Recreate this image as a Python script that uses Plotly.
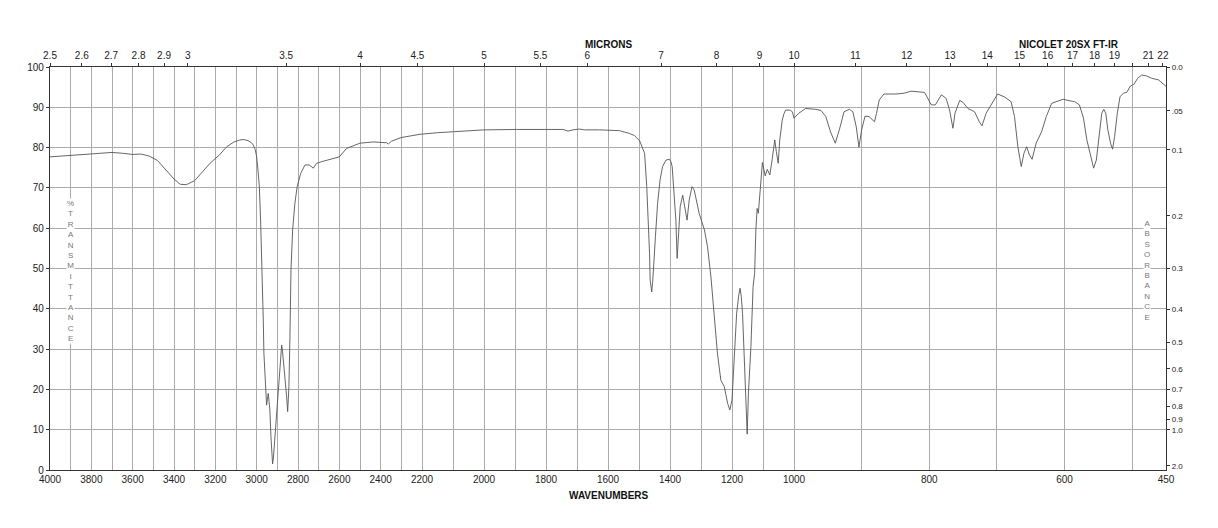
import plotly.graph_objects as go

# ---- data (wavenumber cm-1, % transmittance) ----
wavenumber = [4000, 3950, 3900, 3850, 3800, 3750, 3700, 3650, 3600, 3560, 3520, 3480, 3440, 3400,
              3370, 3340, 3300, 3260, 3226, 3180, 3145, 3110, 3081, 3060, 3041, 3025, 3016, 3007,
              3000, 2993, 2987, 2981, 2976, 2971, 2968, 2965, 2960, 2955, 2952, 2948, 2944, 2940,
              2936, 2931, 2926, 2923, 2919, 2916, 2907, 2896, 2887, 2879, 2875, 2871, 2863, 2855,
              2850, 2844, 2839, 2834, 2826, 2815, 2804, 2787, 2766, 2746, 2726, 2710, 2686, 2645,
              2600, 2565, 2530, 2500, 2436, 2371, 2363, 2347, 2300, 2250, 2210, 2150, 2099, 2000,
              1895, 1767, 1745, 1729, 1713, 1692, 1676, 1627, 1563, 1530, 1515, 1498, 1486, 1482,
              1475, 1470, 1466, 1464, 1461, 1459, 1456, 1454, 1447, 1440, 1432, 1424, 1413, 1402,
              1397, 1393, 1388, 1381, 1377, 1372, 1367, 1359, 1353, 1345, 1338, 1329, 1322, 1306,
              1289, 1279, 1268, 1257, 1247, 1236, 1225, 1214, 1207, 1200, 1193, 1185, 1178, 1174,
              1170, 1166, 1161, 1155, 1151, 1147, 1139, 1132, 1127, 1123, 1119, 1115, 1110, 1107,
              1102, 1097, 1093, 1086, 1078, 1070, 1062, 1057, 1051, 1046, 1038, 1032, 1027, 1011,
              1005, 1000, 993, 983, 968, 960, 953, 946, 939, 933, 926, 918, 913, 908, 904, 900,
              895, 889, 881, 878, 874, 867, 849, 837, 827, 807, 802, 797, 791, 782, 775, 770, 765,
              762, 755, 750, 743, 733, 726, 722, 716, 711, 706, 699, 689, 679, 674, 669, 664, 660,
              656, 652, 648, 642, 634, 627, 619, 612, 602, 595, 585, 578, 572, 567, 561, 557, 553,
              549, 545, 542, 539, 536, 532, 529, 526, 522, 518, 513, 508, 503, 497, 492, 486, 479,
              471, 461, 454, 450]
transmittance = [77.7, 77.9, 78.1, 78.3, 78.5, 78.7, 78.8, 78.6, 78.3, 78.4, 77.9, 76.8, 74.5, 72.2,
                 70.9, 70.8, 71.8, 74.0, 76.1, 78.2, 80.2, 81.4, 81.9, 82.0, 81.7, 81.2, 80.6, 79.5,
                 77.7, 74.0, 70.3, 62.0, 53.8, 45.5, 37.2, 29.0, 22.3, 17.0, 16.1, 17.5, 19.0, 17.0,
                 14.9, 8.3, 3.5, 1.5, 3.0, 5.0, 12.4, 20.7, 25.6, 31.0, 29.5, 27.3, 24.0, 18.2,
                 14.5, 20.7, 33.1, 49.6, 59.6, 66.2, 70.3, 73.6, 75.7, 75.7, 74.9, 76.1, 76.5, 77.1,
                 77.7, 79.8, 80.6, 81.1, 81.4, 81.2, 80.9, 81.6, 82.5, 83.0, 83.3, 83.7, 84.0, 84.4,
                 84.5, 84.6, 84.5, 84.1, 84.4, 84.6, 84.4, 84.4, 84.2, 83.5, 83.0, 81.7, 79.5, 78.6,
                 70.3, 62.0, 53.8, 47.1, 44.8, 44.2, 46.5, 49.6, 57.9, 66.2, 72.0, 75.3, 76.9, 77.1,
                 76.5, 75.3, 70.3, 62.0, 52.5, 60.4, 65.4, 68.2, 65.4, 62.0, 67.0, 70.3, 69.5, 63.7,
                 59.6, 55.4, 48.0, 38.9, 29.0, 22.3, 20.7, 16.5, 14.9, 17.4, 29.0, 38.9, 43.5, 45.1,
                 43.0, 38.9, 29.0, 14.1, 8.9, 19.0, 30.6, 45.5, 48.8, 59.6, 64.9, 63.7, 68.7, 72.8,
                 76.3, 74.5, 73.0, 74.6, 73.2, 77.3, 81.9, 79.0, 76.1, 81.9, 86.8, 88.5, 89.3, 89.3,
                 88.8, 87.3, 88.5, 89.7, 89.5, 89.2, 87.7, 83.9, 81.1, 84.4, 88.9, 89.5, 88.9, 85.2,
                 80.1, 84.4, 87.8, 87.7, 86.4, 88.5, 91.8, 93.3, 93.3, 93.5, 94.0, 93.7, 92.2, 90.6,
                 90.6, 93.1, 92.2, 89.3, 84.8, 88.5, 91.7, 91.2, 89.7, 88.9, 86.4, 85.4, 88.5, 90.0,
                 91.4, 93.3, 92.6, 91.4, 87.7, 80.2, 75.3, 78.6, 80.2, 78.2, 77.1, 81.1, 83.9, 87.7,
                 91.0, 91.4, 92.0, 91.7, 91.4, 90.6, 87.3, 81.9, 77.7, 74.9, 76.9, 82.7, 88.5, 89.5,
                 88.5, 84.4, 81.1, 79.6, 82.7, 88.5, 92.6, 93.5, 93.7, 95.2, 95.8, 97.2, 98.0, 97.8,
                 97.2, 96.8, 95.9, 95.2]

wn_grid = list(range(4000, 499, -100)) + [450]
wn_labels = [4000, 3800, 3600, 3400, 3200, 3000, 2800, 2600, 2400, 2200, 2000, 1800, 1600,
             1400, 1200, 1000, 800, 600, 450]
microns = [2.5, 2.6, 2.7, 2.8, 2.9, 3, 3.5, 4, 4.5, 5, 5.5, 6, 7, 8, 9, 10, 11, 12, 13, 14, 15,
           16, 17, 18, 19, 20, 21, 22]
micron_labels = ["2.5", "2.6", "2.7", "2.8", "2.9", "3", "3.5", "4", "4.5", "5", "5.5", "6", "7",
                 "8", "9", "10", "11", "12", "13", "14", "15", "16", "17", "18", "19", "", "21", "22"]
absorbance = [0.0, 0.05, 0.1, 0.2, 0.3, 0.4, 0.5, 0.6, 0.7, 0.8, 0.9, 1.0, 2.0]
absorbance_labels = ["0.0", ".05", "0.1", "0.2", "0.3", "0.4", "0.5", "0.6", "0.7", "0.8", "0.9",
                     "1.0", "2.0"]


# piecewise-linear chart scale: 4000-2200, 2200-1000, 1000-450 each take one third
def scale(wn):
    if wn >= 2200:
        return (4000 - wn) / 1800
    if wn >= 1000:
        return 1 + (2200 - wn) / 1200
    return 2 + (1000 - wn) / 550


xs = [scale(w) for w in wavenumber]
font = "Liberation Sans, Arial, sans-serif"
grid = "#ababab"
axis_col = "#333333"

fig = go.Figure()
fig.add_trace(go.Scatter(x=xs, y=transmittance, mode="lines",
                         line=dict(color="#555555", width=0.9), hoverinfo="skip",
                         showlegend=False))
# helper traces so the secondary axes render
fig.add_trace(go.Scatter(x=[0, 3], y=[0, 100], xaxis="x2", yaxis="y2", mode="markers",
                         marker=dict(opacity=0), showlegend=False, hoverinfo="skip"))

fig.update_layout(
    width=1218, height=528,
    margin=dict(l=50, r=52, t=67, b=58),
    paper_bgcolor="white", plot_bgcolor="white",
    font=dict(family=font, size=10, color="#222"),
    xaxis=dict(range=[0, 3], tickvals=[scale(w) for w in wn_grid],
               ticktext=[str(w) if w in wn_labels else "" for w in wn_grid],
               showgrid=True, gridcolor=grid, gridwidth=1, ticks="",
               showline=True, linecolor=axis_col, linewidth=1.2, zeroline=False,
               tickfont=dict(size=10)),
    xaxis2=dict(range=[0, 3], overlaying="x", side="top",
                tickvals=[scale(10000 / m) for m in microns], ticktext=micron_labels,
                showgrid=False, ticks="outside", ticklen=3, tickcolor=axis_col,
                showline=True, linecolor=axis_col, linewidth=1.2, zeroline=False,
                tickfont=dict(size=10)),
    yaxis=dict(range=[0, 100], dtick=10, showgrid=True, gridcolor=grid, gridwidth=1,
               ticks="outside", ticklen=3, tickcolor=axis_col,
               showline=True, linecolor=axis_col, linewidth=1.2, zeroline=False,
               tickfont=dict(size=10)),
    yaxis2=dict(range=[0, 100], overlaying="y", side="right",
                tickvals=[100 * 10 ** (-a) for a in absorbance], ticktext=absorbance_labels,
                showgrid=False, ticks="outside", ticklen=3, tickcolor=axis_col,
                showline=True, linecolor=axis_col, linewidth=1.2, zeroline=False,
                tickfont=dict(size=8)),
)

fig.add_annotation(text="<b>MICRONS</b>", xref="paper", yref="paper", x=0.5009, y=1.057,
                   showarrow=False, font=dict(size=10, color="#111"), yanchor="middle")
fig.add_annotation(text="<b>NICOLET 20SX FT-IR</b>", xref="paper", yref="paper", x=0.9597,
                   y=1.057, showarrow=False, font=dict(size=10, color="#111"), yanchor="middle")
fig.add_annotation(text="<b>WAVENUMBERS</b>", xref="paper", yref="paper", x=0.5009, y=-0.0645,
                   showarrow=False, font=dict(size=10, color="#111"), yanchor="middle")
fig.add_annotation(text="<br>".join("%TRANSMITTANCE"), xref="x", yref="y", x=0.0538, y=49.4,
                   showarrow=False, font=dict(size=8, color="#777"), bgcolor="white",
                   borderpad=0)
fig.add_annotation(text="<br>".join("ABSORBANCE"), xref="x", yref="y", x=2.949, y=49.6,
                   showarrow=False, font=dict(size=8, color="#777"), bgcolor="white",
                   borderpad=0)

fig.write_html("out.html")
